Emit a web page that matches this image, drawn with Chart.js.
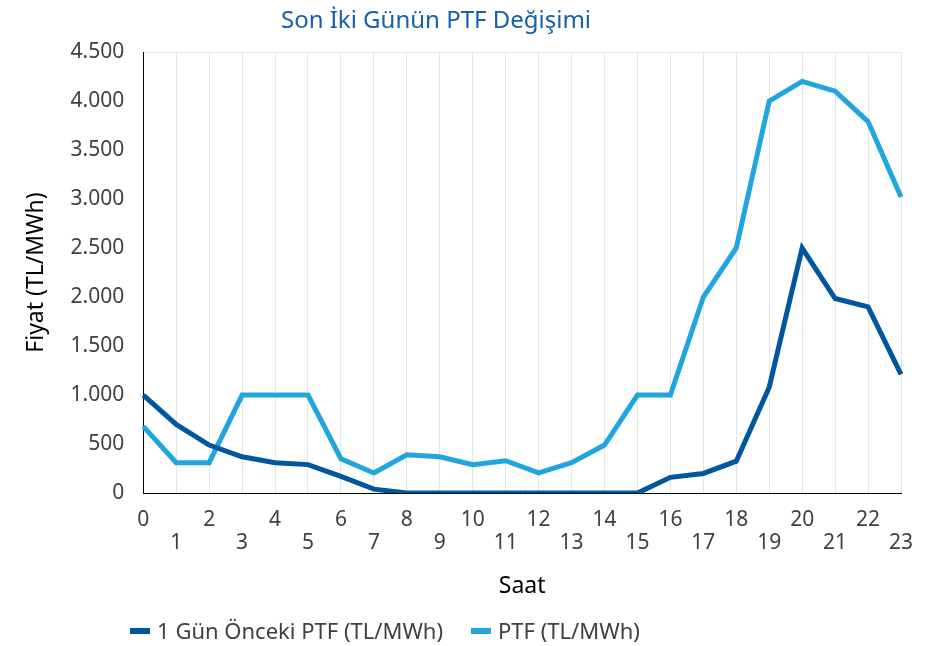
<!DOCTYPE html>
<html>
<head>
<meta charset="utf-8">
<script src="https://cdn.jsdelivr.net/npm/chart.js@4.4.1/dist/chart.umd.min.js"></script>
<style>
  body { margin: 0; background: #fff; }
  #wrap { position: relative; width: 941px; height: 646px; font-family: "Noto Sans", "Open Sans", sans-serif; }
  #title { position: absolute; left: 0; top: 2px; width: 872px; text-align: center; color: #1560a8; font-size: 24px; }
  #legend { position: absolute; left: 0; top: 615px; width: 770px; text-align: center; color: #404040; font-size: 22px; }
  #legend span.item { margin: 0 14px; white-space: nowrap; }
  #legend span.sw { display: inline-block; width: 20px; height: 6px; margin-right: 7px; vertical-align: middle; position: relative; top: -2px; }
</style>
</head>
<body>
<div id="wrap">
  <canvas id="line-chart" width="941" height="646"></canvas>
  <div id="title">Son İki Günün PTF Değişimi</div>
  <div id="legend"></div>
</div>
<script>
var hours = ["0","1","2","3","4","5","6","7","8","9","10","11","12","13","14","15","16","17","18","19","20","21","22","23"]
var prevDay = [1000, 700, 490, 370, 310, 290, 170, 40, 0, 0, 0, 0, 0, 0, 0, 0, 160, 200, 325, 1080, 2500, 1985, 1900, 1210]
var ptf = [680, 310, 310, 1000, 1000, 1000, 350, 205, 390, 370, 290, 330, 205, 310, 490, 1000, 1000, 2000, 2500, 4000, 4200, 4100, 3790, 3020]
var seriesNames = ["1 Gün Önceki PTF (TL/MWh)", "PTF (TL/MWh)"]
var seriesColors = ["#0057a0", "#21a5df"]

function trNum(v) {
    return String(v).replace(/\B(?=(\d{3})+(?!\d))/g, ".")
}

// legend as html so it can sit off-center like the original
var leg = document.getElementById("legend")
seriesNames.forEach(function(n, i) {
    leg.innerHTML += '<span class="item"><span class="sw" style="background:' + seriesColors[i] + '"></span>' + n + '</span>'
})

var fam = "'Noto Sans', 'Open Sans', sans-serif"

new Chart(document.getElementById("line-chart"), {
    type: 'line',
    data: {
        labels: hours,
        datasets: [
            {
                label: seriesNames[0],
                data: prevDay,
                borderColor: seriesColors[0],
                backgroundColor: seriesColors[0],
                borderWidth: 5,
                pointRadius: 0,
                tension: 0
            },
            {
                label: seriesNames[1],
                data: ptf,
                borderColor: seriesColors[1],
                backgroundColor: seriesColors[1],
                borderWidth: 5,
                pointRadius: 0,
                tension: 0
            }
        ]
    },
    options: {
        responsive: false,
        animation: false,
        layout: { padding: { top: 52, right: 40, left: 23, bottom: 46 } },
        plugins: {
            legend: { display: false },
            title: { display: false },
            tooltip: { enabled: false }
        },
        scales: {
            x: {
                offset: false,
                grid: { color: "#e6e6e6", drawTicks: false },
                border: { color: "#000", width: 1 },
                ticks: {
                    autoSkip: false,
                    maxRotation: 0,
                    padding: 16,
                    color: "#404040",
                    font: { family: fam, size: 21, lineHeight: 1.08 },
                    callback: function(value, index) {
                        var l = hours[index]
                        return index % 2 === 0 ? l : ["", l]
                    }
                },
                title: {
                    display: true,
                    text: "Saat",
                    color: "#000",
                    font: { family: fam, size: 23 },
                    padding: { top: 2, bottom: 0 }
                }
            },
            y: {
                min: 0,
                max: 4500,
                grid: {
                    drawTicks: false,
                    color: function(ctx) { return ctx.tick && ctx.tick.value === 4500 ? "#e6e6e6" : "rgba(0,0,0,0)" }
                },
                border: { color: "#000", width: 1 },
                ticks: {
                    stepSize: 500,
                    padding: 19,
                    color: "#404040",
                    font: { family: fam, size: 21 },
                    callback: function(v) { return trNum(v) }
                },
                title: {
                    display: true,
                    text: "Fiyat (TL/MWh)",
                    color: "#000",
                    font: { family: fam, size: 23 },
                    padding: { top: 0, bottom: 1 }
                }
            }
        }
    }
});
</script>
</body>
</html>
